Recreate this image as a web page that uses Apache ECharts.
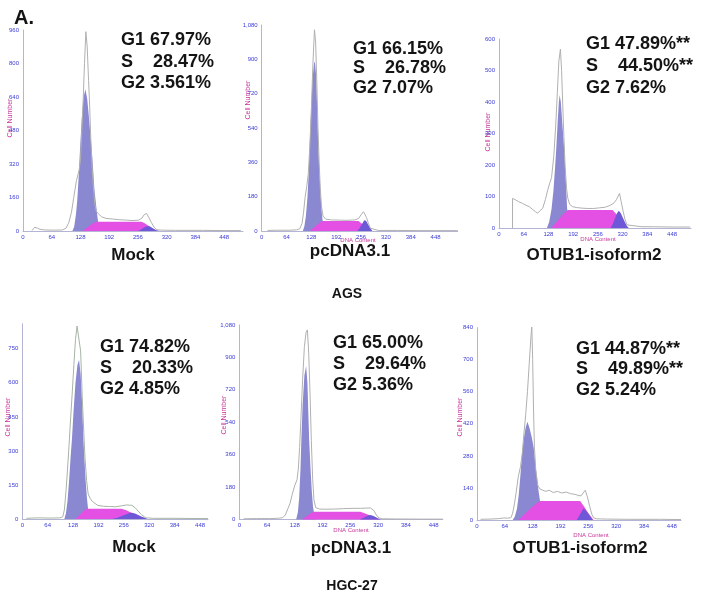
<!DOCTYPE html>
<html>
<head>
<meta charset="utf-8">
<script src="https://cdn.jsdelivr.net/npm/echarts@6/dist/echarts.min.js"></script>
<style>html,body{margin:0;padding:0;background:#fff}#c{width:706px;height:597px}</style>
</head>
<body>
<div id="c"></div>
<script>
// ---------- data ----------
const panelLabel = "A.";
const sampleNames = ["Mock", "pcDNA3.1", "OTUB1-isoform2", "Mock", "pcDNA3.1", "OTUB1-isoform2"];
const cellLines = ["AGS", "HGC-27"];
const phaseText = [
  ["G1 67.97%", "S    28.47%", "G2 3.561%"],
  ["G1 66.15%", "S    26.78%", "G2 7.07%"],
  ["G1 47.89%**", "S    44.50%**", "G2 7.62%"],
  ["G1 74.82%", "S    20.33%", "G2 4.85%"],
  ["G1 65.00%", "S    29.64%", "G2 5.36%"],
  ["G1 44.87%**", "S    49.89%**", "G2 5.24%"]
];
const yAxisTitle = "Cell Number";
const xAxisTitle = "DNA Content";
const xTickStep = 64;
const yMax = [960, 1080, 600, 860, 1080, 840];
const yTickStep = [160, 180, 100, 150, 180, 140];
const xMax = [490, 505, 497, 468, 469, 469];

// AGS Mock
const outline1 = [[20,2],[26,18],[32,14],[38,8],[48,5],[70,4],[88,5],[96,14],[102,40],[108,90],[113,160],[119,240],[125,291],[128,340],[131,480],[134,626],[137,800],[140,952],[143,880],[146,720],[148,626],[151,440],[154,300],[157,200],[160,130],[163,95],[168,82],[175,68],[185,60],[200,57],[215,54],[230,52],[245,50],[258,52],[265,62],[270,78],[275,84],[280,66],[286,40],[292,18],[298,6],[310,4],[340,3],[400,3],[448,2],[485,2]];
const g1_1 = [[110,0],[114,20],[118,80],[121,150],[124,260],[127,390],[131,540],[135,640],[139,677],[143,630],[147,540],[150,460],[153,390],[156,300],[159,200],[162,140],[165,80],[168,35],[172,10],[176,0]];
const s_1 = [[132,0],[140,12],[150,28],[158,40],[164,44],[200,44],[240,44],[264,44],[272,36],[280,24],[288,12],[294,4],[298,0]];
const g2_1 = [[256,0],[262,6],[268,14],[274,21],[279,24],[284,20],[290,12],[296,5],[304,0]];

// AGS pcDNA3.1
const outline2 = [[15,3],[40,4],[70,4],[90,6],[98,12],[104,40],[108,100],[112,180],[116,232],[120,300],[124,440],[128,640],[132,880],[136,1055],[139,990],[142,780],[145,540],[148,360],[151,220],[154,130],[158,78],[165,62],[180,58],[200,57],[220,56],[240,58],[250,66],[256,85],[262,101],[266,88],[270,70],[275,40],[280,15],[285,5],[300,3],[350,3],[400,2],[448,2],[505,2]];
const g1_2 = [[106,0],[110,25],[114,80],[118,180],[121,300],[123,425],[127,620],[131,800],[135,880],[137,888],[140,820],[143,640],[146,425],[149,300],[152,180],[155,90],[158,35],[162,8],[166,0]];
const s_2 = [[124,0],[132,14],[140,28],[148,42],[155,52],[200,52],[249,52],[256,42],[264,28],[272,13],[279,0]];
const g2_2 = [[246,0],[252,15],[258,35],[263,52],[266,58],[270,50],[275,32],[280,14],[285,0]];

// AGS OTUB1-isoform2
const outline3 = [[35,0],[35,94],[42,90],[50,84],[61,78],[70,72],[78,68],[86,60],[94,52],[100,47],[106,55],[113,62],[120,90],[126,120],[132,145],[136,160],[142,230],[147,330],[151,430],[155,530],[159,568],[162,500],[165,390],[168,290],[171,200],[175,125],[178,95],[183,75],[190,68],[200,65],[215,63],[230,62],[245,62],[260,64],[275,66],[288,72],[298,80],[304,90],[308,100],[312,110],[316,85],[321,55],[326,28],[331,10],[336,5],[350,7],[370,4],[400,4],[448,3],[495,3]];
const g1_3 = [[124,0],[130,20],[136,60],[141,120],[145,190],[148,248],[152,340],[155,400],[157,422],[160,400],[164,330],[169,248],[173,150],[176,70],[179,20],[182,0]];
const s_3 = [[135,0],[145,14],[155,28],[165,42],[178,57],[220,57],[260,57],[294,57],[304,44],[314,28],[324,12],[333,0]];
const g2_3 = [[289,0],[295,14],[300,30],[305,46],[310,55],[315,48],[320,34],[326,18],[331,6],[336,0]];

// HGC-27 Mock
const outline4 = [[10,3],[40,5],[70,4],[95,5],[102,10],[106,40],[110,120],[114,220],[118,330],[122,450],[126,560],[130,680],[134,790],[138,850],[143,858],[147,740],[151,540],[155,380],[158,270],[162,170],[166,110],[171,91],[176,78],[181,70],[190,60],[205,56],[220,55],[235,54],[250,58],[263,62],[270,61],[276,60],[284,50],[292,35],[300,20],[307,10],[313,5],[330,3],[380,3],[448,2],[468,2]];
const g1_4 = [[106,0],[110,25],[114,80],[118,170],[122,280],[125,348],[129,470],[134,600],[139,680],[143,700],[147,640],[151,500],[154,348],[157,250],[160,160],[163,90],[166,40],[170,12],[174,0]];
const s_4 = [[133,0],[140,10],[148,24],[155,36],[162,45],[200,45],[230,45],[250,45],[262,38],[275,28],[288,18],[300,9],[313,0]];
const g2_4 = [[226,0],[240,6],[252,14],[262,21],[270,26],[276,27],[284,24],[292,18],[300,11],[308,5],[316,0]];

// HGC-27 pcDNA3.1
const outline5 = [[10,4],[40,5],[70,5],[90,7],[100,10],[106,25],[112,60],[117,90],[122,140],[128,190],[133,220],[136,280],[139,400],[142,560],[146,780],[150,960],[154,1040],[157,1053],[160,920],[163,700],[166,440],[169,230],[172,110],[176,66],[185,58],[200,57],[220,58],[240,60],[260,62],[280,62],[290,63],[302,64],[310,50],[316,25],[322,8],[330,4],[360,3],[420,2],[448,2],[469,2]];
const g1_5 = [[131,0],[135,40],[138,120],[141,280],[143,442],[146,640],[150,800],[154,853],[157,760],[159,600],[161,442],[164,290],[167,160],[170,70],[173,25],[177,0]];
const s_5 = [[144,0],[152,13],[160,26],[166,36],[171,43],[220,43],[260,43],[279,43],[290,33],[300,23],[312,12],[325,0]];
const g2_5 = [[278,0],[285,8],[292,16],[298,23],[302,25],[308,21],[314,14],[320,6],[326,0]];

// HGC-27 OTUB1-isoform2
const outline6 = [[8,3],[30,4],[50,6],[62,9],[70,8],[78,10],[82,30],[86,70],[90,120],[95,190],[100,233],[104,290],[108,380],[112,460],[116,560],[120,680],[124,800],[126,844],[128,700],[130,480],[132,320],[135,220],[140,150],[145,135],[150,131],[158,125],[166,130],[175,120],[185,125],[195,118],[205,122],[215,115],[225,112],[232,108],[239,105],[244,118],[249,130],[254,100],[259,60],[264,25],[268,10],[275,5],[300,4],[350,3],[420,3],[469,2]];
const g1_6 = [[82,0],[87,15],[92,50],[96,110],[100,200],[104,300],[108,360],[112,405],[116,429],[121,400],[126,360],[130,320],[134,250],[138,180],[142,120],[146,70],[150,35],[154,12],[158,0]];
const s_6 = [[95,0],[105,18],[115,36],[125,55],[135,70],[145,83],[190,83],[237,83],[245,62],[252,42],[260,20],[268,0]];
const g2_6 = [[229,0],[234,15],[239,32],[245,51],[250,42],[255,30],[260,16],[266,0]];

const outlines = [outline1, outline2, outline3, outline4, outline5, outline6];
const g1Fits = [g1_1, g1_2, g1_3, g1_4, g1_5, g1_6];
const sFits = [s_1, s_2, s_3, s_4, s_5, s_6];
const g2Fits = [g2_1, g2_2, g2_3, g2_4, g2_5, g2_6];

// ---------- layout & style ----------
const FONT = '"Liberation Sans", Arial, Helvetica, sans-serif';
const layout = [
  {left: 23,    top: 30,    w: 220,   h: 201,   txt: [121, [40, 62, 83]],   cn: [10, 118],  dna: null,       name: [133, 255]},
  {left: 261.7, top: 25,    w: 196,   h: 206,   txt: [353, [49, 68, 88]],   cn: [248, 100], dna: [358, 240], name: [350, 251]},
  {left: 499,   top: 39,    w: 192,   h: 189,   txt: [586, [44, 66, 88]],   cn: [488, 132], dna: [598, 239], name: [594, 255]},
  {left: 22.3,  top: 323.8, w: 185.7, h: 195.2, txt: [100, [347, 368, 389]], cn: [8, 417],   dna: null,       name: [134, 547]},
  {left: 239.3, top: 325,   w: 203.5, h: 194.5, txt: [333, [343, 364, 385]], cn: [224, 415], dna: [351, 530], name: [351, 548]},
  {left: 477,   top: 327.6, w: 204,   h: 192.4, txt: [576, [349, 369, 390]], cn: [460, 417], dna: [591, 535], name: [580, 548]}
];
const cellLinePos = [[347, 294], [352, 586]];
const G1_COLOR = 'rgb(138,136,208)';
const S_COLOR = 'rgb(228,80,228)';
const G2_COLOR = 'rgb(110,88,215)';
const TICK_COLOR = '#3b3bd6';
const TITLE_COLOR = '#c8359a';
const AXIS_COLOR = '#b4b4d4';

const grid = [], xAxis = [], yAxis = [], series = [], graphic = [];

function fillSeries(idx, pts, color) {
  return {
    type: 'custom',
    xAxisIndex: idx, yAxisIndex: idx,
    data: pts,
    silent: true,
    animation: false,
    renderItem: function (params, api) {
      if (params.dataIndex !== 0) return null;
      const points = [api.coord([pts[0][0], 0])];
      for (const p of pts) points.push(api.coord(p));
      points.push(api.coord([pts[pts.length - 1][0], 0]));
      return {
        type: 'polygon',
        shape: {points: points},
        style: {fill: color, blend: 'multiply'}
      };
    }
  };
}

layout.forEach(function (L, i) {
  grid.push({left: L.left, top: L.top, width: L.w, height: L.h, containLabel: false});
  xAxis.push({
    type: 'value', gridIndex: i, min: 0, max: xMax[i], interval: xTickStep,
    axisLine: {show: true, onZero: false, lineStyle: {color: AXIS_COLOR, width: 1}},
    axisTick: {show: false}, splitLine: {show: false},
    axisLabel: {fontSize: 6, color: TICK_COLOR, margin: 3, fontFamily: FONT, showMaxLabel: false}
  });
  yAxis.push({
    type: 'value', gridIndex: i, min: 0, max: yMax[i], interval: yTickStep[i],
    axisLine: {show: true, onZero: false, lineStyle: {color: AXIS_COLOR, width: 1}},
    axisTick: {show: false}, splitLine: {show: false},
    axisLabel: {fontSize: 6, color: TICK_COLOR, margin: 4, fontFamily: FONT, showMaxLabel: yMax[i] % yTickStep[i] === 0}
  });
  series.push(fillSeries(i, g1Fits[i], G1_COLOR));
  series.push(fillSeries(i, sFits[i], S_COLOR));
  series.push(fillSeries(i, g2Fits[i], G2_COLOR));
  series.push({
    type: 'line', xAxisIndex: i, yAxisIndex: i, data: outlines[i],
    symbol: 'none', smooth: false, silent: true, animation: false, z: 3,
    lineStyle: {color: i === 3 ? '#a6b4a6' : '#b0b0b0', width: 1}
  });

  phaseText[i].forEach(function (t, k) {
    graphic.push({type: 'text', x: L.txt[0], y: L.txt[1][k], silent: true,
      style: {text: t, font: 'bold 18px ' + FONT, fill: '#141414', align: 'left', verticalAlign: 'middle'}});
  });
  graphic.push({type: 'text', x: L.cn[0], y: L.cn[1], rotation: Math.PI / 2, silent: true,
    style: {text: yAxisTitle, font: '7px ' + FONT, fill: TITLE_COLOR, align: 'center', verticalAlign: 'middle'}});
  if (L.dna) {
    graphic.push({type: 'text', x: L.dna[0], y: L.dna[1], silent: true,
      style: {text: xAxisTitle, font: '6px ' + FONT, fill: TITLE_COLOR, align: 'center', verticalAlign: 'middle'}});
  }
  graphic.push({type: 'text', x: L.name[0], y: L.name[1], silent: true,
    style: {text: sampleNames[i], font: 'bold 17px ' + FONT, fill: '#141414', align: 'center', verticalAlign: 'middle'}});
});

cellLines.forEach(function (c, k) {
  graphic.push({type: 'text', x: cellLinePos[k][0], y: cellLinePos[k][1], silent: true,
    style: {text: c, font: 'bold 14px ' + FONT, fill: '#141414', align: 'center', verticalAlign: 'middle'}});
});
graphic.push({type: 'text', x: 14, y: 18, silent: true,
  style: {text: panelLabel, font: 'bold 20px ' + FONT, fill: '#141414', align: 'left', verticalAlign: 'middle'}});

const chart = echarts.init(document.getElementById('c'), null, {renderer: 'canvas'});
chart.setOption({
  backgroundColor: '#ffffff',
  animation: false,
  grid: grid, xAxis: xAxis, yAxis: yAxis, series: series, graphic: graphic
});
</script>
</body>
</html>
